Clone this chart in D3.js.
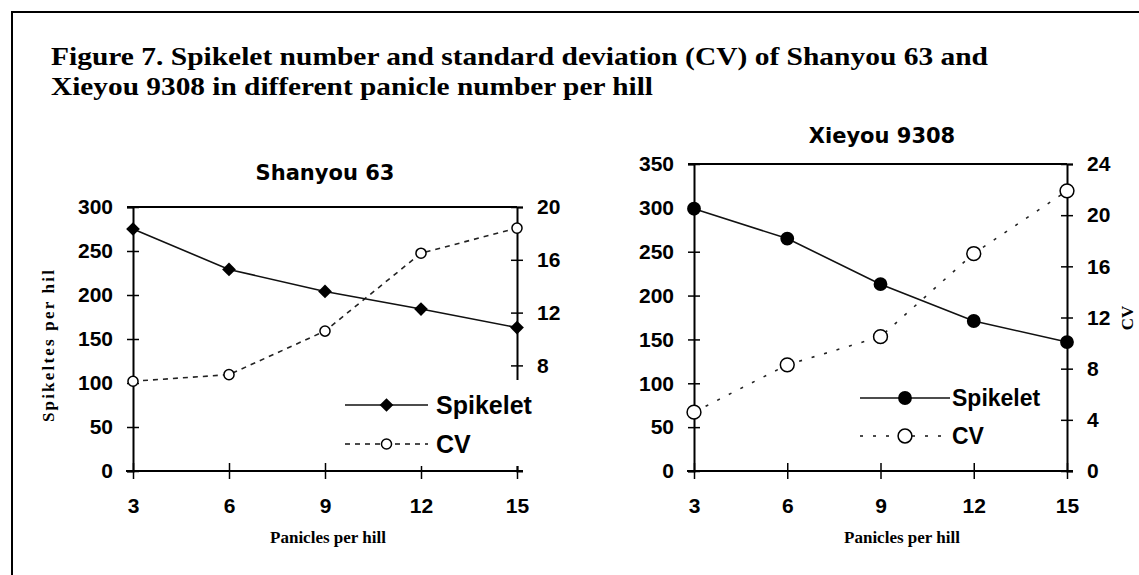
<!DOCTYPE html>
<html>
<head>
<meta charset="utf-8">
<script src="https://cdn.jsdelivr.net/npm/d3@7"></script>
<style>
  body { margin: 0; background: #fff; }
  svg { display: block; }
  .tick text { font-family: 'Liberation Sans', Arial, sans-serif; font-weight: bold; font-size: 21px; fill: #000; }
</style>
</head>
<body>
<svg id="chart" width="1139" height="575"></svg>
<script>
const panicles = [3, 6, 9, 12, 15]

const shanyouSpikelet = [275, 229, 204, 184, 163]
const shanyouCV = [6.8, 7.3, 10.6, 16.5, 18.4]

const xieyouSpikelet = [299, 265, 213, 171, 147]
const xieyouCV = [4.6, 8.3, 10.5, 17.0, 21.9]

const titleLines = [
  'Figure 7. Spikelet number and standard deviation (CV) of Shanyou 63 and',
  'Xieyou 9308 in different panicle number per hill'
]
const titleWidths = [937, 602]

const svg = d3.select('#chart')

// frame
svg.append('path')
  .attr('d', 'M12,575 V12 H1139')
  .attr('fill', 'none')
  .attr('stroke', '#000')
  .attr('stroke-width', 2)

svg.selectAll('.fig-title')
  .data(titleLines)
  .enter()
  .append('text')
  .attr('class', 'fig-title')
  .attr('x', 51)
  .attr('y', (d, i) => 65 + i * 30)
  .attr('font-family', 'Liberation Serif, Times New Roman, serif')
  .attr('font-weight', 'bold')
  .attr('font-size', 25)
  .attr('textLength', (d, i) => titleWidths[i])
  .attr('lengthAdjust', 'spacingAndGlyphs')
  .text(d => d)

const panels = [
  {
    name: 'Shanyou 63',
    spikelet: shanyouSpikelet,
    cv: shanyouCV,
    xRange: [133, 517],
    yTop: 207,
    yMax: 300,
    cvMax: 20,
    cvTicks: [8, 12, 16, 20],
    titleX: 325,
    titleY: 180,
    xTitleX: 328,
    marker: 'diamond',
    cvDash: '5,5',
    legend: { x: 345, y: 405, w: 200, h: 86, lineLen: 83, gap: 39, textGap: 8, font: 25 },
    yTitle: 'Spikeltes per hil',
    cvTitle: null
  },
  {
    name: 'Xieyou 9308',
    spikelet: xieyouSpikelet,
    cv: xieyouCV,
    xRange: [694, 1067],
    yTop: 164,
    yMax: 350,
    cvMax: 24,
    cvTicks: [0, 4, 8, 12, 16, 20, 24],
    titleX: 882,
    titleY: 143,
    xTitleX: 902,
    marker: 'circle',
    cvDash: '3,10',
    legend: { x: 860, y: 398, w: 0, h: 0, lineLen: 90, gap: 38, textGap: 2, font: 23 },
    yTitle: null,
    cvTitle: 'CV'
  }
]

const bottom = 471

panels.forEach(function(p) {
  const g = svg.append('g')

  const x = d3.scaleLinear().domain([3, 15]).range(p.xRange)
  const y = d3.scaleLinear().domain([0, p.yMax]).range([bottom, p.yTop])
  const yCV = d3.scaleLinear().domain([0, p.cvMax]).range([bottom, p.yTop])

  // top border of plot area
  g.append('line')
    .attr('x1', x(3) - 6)
    .attr('x2', x(15))
    .attr('y1', y(p.yMax))
    .attr('y2', y(p.yMax))
    .attr('stroke', '#000')
    .attr('stroke-width', 2)

  const yAxis = g.append('g')
    .attr('transform', `translate(${x(3)},0)`)
    .call(d3.axisLeft(y).tickValues(d3.range(0, p.yMax + 1, 50)).tickSize(6).tickPadding(14))
  yAxis.selectAll('.tick line').attr('x1', -6).attr('x2', 6)

  const cvAxis = g.append('g')
    .attr('transform', `translate(${x(15)},0)`)
    .call(d3.axisRight(yCV).tickValues(p.cvTicks).tickSize(6).tickPadding(14))
  cvAxis.selectAll('.tick line').attr('x1', -6).attr('x2', 6)

  const xAxis = g.append('g')
    .attr('transform', `translate(0,${bottom})`)
    .call(d3.axisBottom(x).tickValues(panicles).tickSize(8).tickPadding(19))
  xAxis.selectAll('.tick line').attr('y1', -8).attr('y2', 8)

  g.selectAll('.domain')
    .attr('stroke', '#000')
    .attr('stroke-width', 2)
  g.selectAll('.tick line')
    .attr('stroke', '#000')
    .attr('stroke-width', 1.5)

  // x axis line extends a little past the ends
  xAxis.select('.domain').attr('d', `M${x(3) - 7},0H${x(15) + 6}`)

  // series lines
  const spikeLine = d3.line()
    .x((d, i) => x(panicles[i]))
    .y(d => y(d))
  const cvLine = d3.line()
    .x((d, i) => x(panicles[i]))
    .y(d => yCV(d))

  g.append('path')
    .datum(p.cv)
    .attr('d', cvLine)
    .attr('fill', 'none')
    .attr('stroke', '#222')
    .attr('stroke-width', 1.6)
    .attr('stroke-dasharray', p.cvDash)

  g.append('path')
    .datum(p.spikelet)
    .attr('d', spikeLine)
    .attr('fill', 'none')
    .attr('stroke', '#111')
    .attr('stroke-width', 1.6)

  const symType = p.marker === 'diamond' ? d3.symbolDiamond2 : d3.symbolCircle
  const filledSize = p.marker === 'diamond' ? 120 : 150
  const openSize = p.marker === 'diamond' ? 80 : 150

  g.selectAll('.spike-pt')
    .data(p.spikelet)
    .enter()
    .append('path')
    .attr('class', 'spike-pt')
    .attr('d', d3.symbol().type(symType).size(filledSize))
    .attr('transform', (d, i) => `translate(${x(panicles[i])},${y(d)})`)
    .attr('fill', '#000')

  g.selectAll('.cv-pt')
    .data(p.cv)
    .enter()
    .append('path')
    .attr('class', 'cv-pt')
    .attr('d', d3.symbol().type(d3.symbolCircle).size(openSize))
    .attr('transform', (d, i) => `translate(${x(panicles[i])},${yCV(d)})`)
    .attr('fill', '#fff')
    .attr('stroke', '#000')
    .attr('stroke-width', 1.5)

  // legend
  const L = p.legend
  const lg = g.append('g').attr('transform', `translate(${L.x},${L.y})`)
  if (L.w) {
    lg.append('rect')
      .attr('x', -6)
      .attr('y', -25)
      .attr('width', L.w)
      .attr('height', L.h)
      .attr('fill', '#fff')
  }
  const legendItems = [
    { label: 'Spikelet', dash: null, fill: '#000', size: filledSize },
    { label: 'CV', dash: p.cvDash, fill: '#fff', size: openSize }
  ]
  legendItems.forEach(function(item, i) {
    const row = lg.append('g').attr('transform', `translate(0,${i * L.gap})`)
    row.append('line')
      .attr('x1', 0)
      .attr('x2', L.lineLen)
      .attr('stroke', '#111')
      .attr('stroke-width', 1.6)
      .attr('stroke-dasharray', item.dash)
    row.append('path')
      .attr('d', d3.symbol().type(i === 0 ? symType : d3.symbolCircle).size(item.size))
      .attr('transform', `translate(${L.lineLen / 2},0)`)
      .attr('fill', item.fill)
      .attr('stroke', i === 0 ? 'none' : '#000')
      .attr('stroke-width', 1.5)
    row.append('text')
      .attr('x', L.lineLen + L.textGap)
      .attr('dy', '0.35em')
      .attr('font-family', 'Liberation Sans, Arial, sans-serif')
      .attr('font-weight', 'bold')
      .attr('font-size', L.font)
      .text(item.label)
  })

  // panel title
  g.append('text')
    .attr('x', p.titleX)
    .attr('y', p.titleY)
    .attr('text-anchor', 'middle')
    .attr('font-family', 'DejaVu Sans, Verdana, sans-serif')
    .attr('font-weight', 'bold')
    .attr('font-size', 21)
    .text(p.name)

  // x axis title
  g.append('text')
    .attr('x', p.xTitleX)
    .attr('y', 543)
    .attr('text-anchor', 'middle')
    .attr('font-family', 'Liberation Serif, Times New Roman, serif')
    .attr('font-weight', 'bold')
    .attr('font-size', 17)
    .text('Panicles per hill')

  if (p.yTitle) {
    g.append('text')
      .attr('transform', 'translate(54,345) rotate(-90)')
      .attr('text-anchor', 'middle')
      .attr('font-family', 'Liberation Serif, Times New Roman, serif')
      .attr('font-weight', 'bold')
      .attr('font-size', 17)
      .attr('letter-spacing', 2.2)
      .text(p.yTitle)
  }
  if (p.cvTitle) {
    g.append('text')
      .attr('transform', 'translate(1133,318) rotate(-90)')
      .attr('text-anchor', 'middle')
      .attr('font-family', 'Liberation Serif, Times New Roman, serif')
      .attr('font-weight', 'bold')
      .attr('font-size', 17)
      .text(p.cvTitle)
  }
})
</script>
</body>
</html>
